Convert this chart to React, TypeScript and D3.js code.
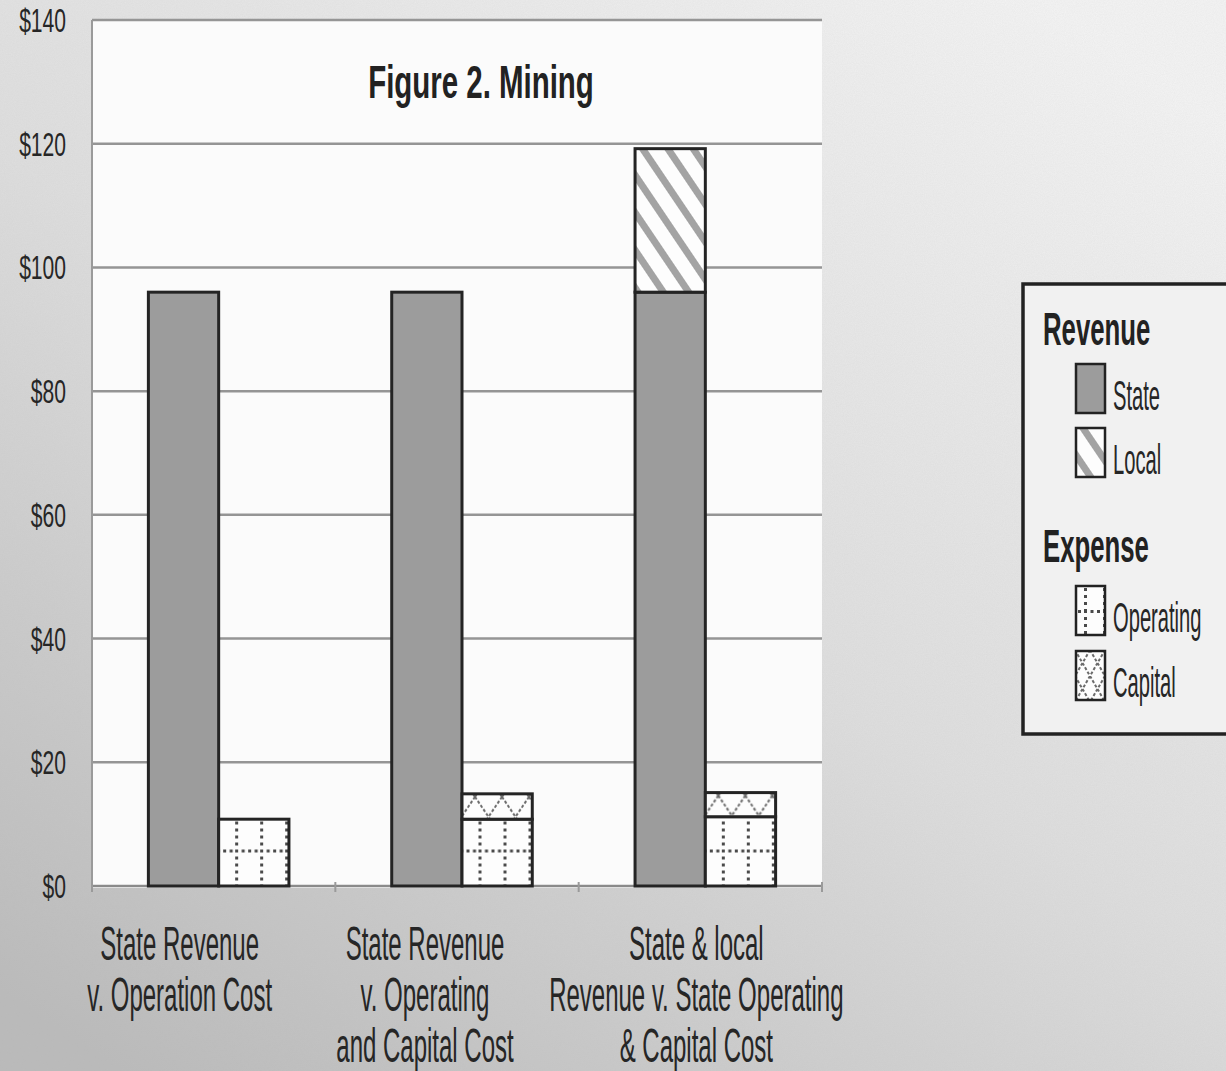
import React, { useEffect, useRef } from 'react';
import * as d3 from 'd3';

// chart values
const categories = ['opCost', 'opCapCost', 'localOpCapCost'];
const categoryLabels = [
  ['State Revenue', 'v. Operation Cost'],
  ['State Revenue', 'v. Operating', 'and Capital Cost'],
  ['State & local', 'Revenue v. State Operating', '& Capital Cost'],
];
const stateRevenue = [96, 96, 96];
const localRevenue = [0, 0, 23.2];
const operatingExpense = [10.8, 10.8, 11.2];
const capitalExpense = [0, 4.1, 3.9];
const yTicks = [0, 20, 40, 60, 80, 100, 120, 140];

const W = 1226;
const H = 1071;
const plot = { left: 92, right: 822, top: 20, bottom: 886 };
const labelDx = [-34, -32, -4];
const font = '"Liberation Sans", Arial, sans-serif';
const ink = '#262626';

const App = () => {
  const svgRef = useRef(null);

  useEffect(() => {
    const svg = d3.select(svgRef.current);
    svg.selectAll('*').remove();

    const x = d3.scaleBand().domain(categories).range([plot.left, plot.right]);
    const inner = d3
      .scaleBand()
      .domain(['revenue', 'expense'])
      .range([10, x.bandwidth()])
      .paddingOuter(0.66)
      .paddingInner(0);
    const y = d3.scaleLinear().domain([0, 140]).range([plot.bottom, plot.top]);

    const defs = svg.append('defs');

    // page background, scanned paper look
    const bg = defs
      .append('linearGradient')
      .attr('id', 'paper')
      .attr('x1', 0.85)
      .attr('y1', 0)
      .attr('x2', 0.1)
      .attr('y2', 1);
    bg.append('stop').attr('offset', 0).attr('stop-color', '#f4f4f4');
    bg.append('stop').attr('offset', 0.5).attr('stop-color', '#dedede');
    bg.append('stop').attr('offset', 1).attr('stop-color', '#bababa');

    const noise = defs.append('filter').attr('id', 'grain').attr('x', 0).attr('y', 0).attr('width', 1).attr('height', 1);
    noise.append('feTurbulence').attr('type', 'fractalNoise').attr('baseFrequency', 0.9).attr('numOctaves', 2).attr('seed', 3);
    noise
      .append('feColorMatrix')
      .attr('type', 'matrix')
      .attr('values', '0 0 0 0 0.5  0 0 0 0 0.5  0 0 0 0 0.5  0 0 0 0.35 0');

    // hatch patterns
    const stripes = (id, ox, oy) => {
      const p = defs
        .append('pattern')
        .attr('id', id)
        .attr('patternUnits', 'userSpaceOnUse')
        .attr('x', ox)
        .attr('y', oy)
        .attr('width', 21)
        .attr('height', 21)
        .attr('patternTransform', 'rotate(-34)');
      p.append('rect').attr('width', 21).attr('height', 21).attr('fill', '#fdfdfd');
      p.append('rect').attr('x', 0).attr('width', 7).attr('height', 21).attr('fill', '#a3a3a3');
    };
    const dotted = (id, ox, oy, w, h) => {
      const p = defs
        .append('pattern')
        .attr('id', id)
        .attr('patternUnits', 'userSpaceOnUse')
        .attr('x', ox)
        .attr('y', oy)
        .attr('width', w)
        .attr('height', h);
      p.append('rect').attr('width', w).attr('height', h).attr('fill', '#fdfdfd');
      p.append('line')
        .attr('x1', 1.5).attr('x2', 1.5).attr('y1', 0).attr('y2', h)
        .attr('stroke', '#4a4a4a').attr('stroke-width', 3).attr('stroke-dasharray', '3 4');
      p.append('line')
        .attr('x1', 0).attr('x2', w).attr('y1', 1.5).attr('y2', 1.5)
        .attr('stroke', '#4a4a4a').attr('stroke-width', 3).attr('stroke-dasharray', '3 3.5');
    };
    const lattice = (id, ox, oy, w, h) => {
      const p = defs
        .append('pattern')
        .attr('id', id)
        .attr('patternUnits', 'userSpaceOnUse')
        .attr('x', ox)
        .attr('y', oy)
        .attr('width', w)
        .attr('height', h);
      p.append('rect').attr('width', w).attr('height', h).attr('fill', '#fdfdfd');
      p.append('path')
        .attr('d', `M0,0L${w},${h}M${w},0L0,${h}`)
        .attr('stroke', '#6a6a6a')
        .attr('stroke-width', 2)
        .attr('stroke-dasharray', '3 2');
    };

    svg.append('rect').attr('width', W).attr('height', H).attr('fill', 'url(#paper)');
    svg.append('rect').attr('width', W).attr('height', H).attr('filter', 'url(#grain)').attr('opacity', 0.5);

    // plot area
    svg
      .append('rect')
      .attr('x', plot.left)
      .attr('y', plot.top)
      .attr('width', plot.right - plot.left)
      .attr('height', plot.bottom - plot.top + 2)
      .attr('fill', '#fbfbfb');

    // gridlines
    svg
      .append('g')
      .selectAll('line')
      .data(yTicks)
      .join('line')
      .attr('x1', plot.left)
      .attr('x2', plot.right)
      .attr('y1', (d) => y(d))
      .attr('y2', (d) => y(d))
      .attr('stroke', (d) => (d === 0 ? '#8a8a8a' : '#959595'))
      .attr('stroke-width', 2.5);

    svg
      .append('line')
      .attr('x1', plot.left)
      .attr('x2', plot.left)
      .attr('y1', plot.top)
      .attr('y2', plot.bottom + 2)
      .attr('stroke', '#9a9a9a')
      .attr('stroke-width', 2);

    // category ticks on the baseline
    const bounds = categories.map((c) => x(c)).concat([plot.right]);
    svg
      .append('g')
      .selectAll('line')
      .data(bounds)
      .join('line')
      .attr('x1', (d) => d)
      .attr('x2', (d) => d)
      .attr('y1', plot.bottom - 4)
      .attr('y2', plot.bottom + 6)
      .attr('stroke', '#9a9a9a')
      .attr('stroke-width', 2);

    // y tick labels
    svg
      .append('g')
      .selectAll('text')
      .data(yTicks)
      .join('text')
      .attr('transform', (d) => `translate(66,${y(d) + 12}) scale(0.62,1)`)
      .attr('text-anchor', 'end')
      .attr('font-family', font)
      .attr('font-size', 34)
      .attr('fill', ink)
      .text((d) => `$${d}`);

    // stacked bars
    const revRows = categories.map((c, i) => ({ state: stateRevenue[i], local: localRevenue[i] }));
    const expRows = categories.map((c, i) => ({ operating: operatingExpense[i], capital: capitalExpense[i] }));
    const revStack = d3.stack().keys(['state', 'local'])(revRows);
    const expStack = d3.stack().keys(['operating', 'capital'])(expRows);

    const barG = svg.append('g');
    const bw = inner.bandwidth();

    categories.forEach((c, i) => {
      const rx = x(c) + inner('revenue');
      const ex = x(c) + inner('expense');
      stripes(`local${i}`, rx, y(revStack[1][i][1]));
      dotted(`op${i}`, ex + 16.5, y(0) - 36.5, 25, 70);
      lattice(`cap${i}`, ex + 13, y(expStack[1][i][1]) + 3, 27, 40);
    });

    const fills = {
      state: () => '#9c9c9c',
      local: (i) => `url(#local${i})`,
      operating: (i) => `url(#op${i})`,
      capital: (i) => `url(#cap${i})`,
    };

    const drawStack = (stack, part) => {
      stack.forEach((layer) => {
        layer.forEach((seg, i) => {
          if (seg[1] - seg[0] <= 0) return;
          barG
            .append('rect')
            .attr('x', x(categories[i]) + inner(part))
            .attr('y', y(seg[1]))
            .attr('width', bw)
            .attr('height', y(seg[0]) - y(seg[1]))
            .attr('fill', fills[layer.key](i))
            .attr('stroke', '#242424')
            .attr('stroke-width', 3);
        });
      });
    };
    drawStack(revStack, 'revenue');
    drawStack(expStack, 'expense');

    // category labels
    categories.forEach((c, i) => {
      const cx = x(c) + x.bandwidth() / 2 + labelDx[i];
      categoryLabels[i].forEach((line, k) => {
        svg
          .append('text')
          .attr('transform', `translate(${cx},${960 + k * 51}) scale(0.5,1)`)
          .attr('text-anchor', 'middle')
          .attr('font-family', font)
          .attr('font-size', 48)
          .attr('fill', ink)
          .text(line);
      });
    });

    // title
    svg
      .append('text')
      .attr('transform', `translate(481,98) scale(0.64,1)`)
      .attr('text-anchor', 'middle')
      .attr('font-family', font)
      .attr('font-weight', 'bold')
      .attr('font-size', 46)
      .attr('fill', '#222')
      .text('Figure 2. Mining');

    // legend
    const lg = svg.append('g');
    lg.append('rect')
      .attr('x', 1023)
      .attr('y', 284)
      .attr('width', 240)
      .attr('height', 450)
      .attr('fill', '#f1f1f1')
      .attr('stroke', '#222')
      .attr('stroke-width', 3.5);

    const heading = (txt, yy) =>
      lg
        .append('text')
        .attr('transform', `translate(1043,${yy}) scale(0.56,1)`)
        .attr('font-family', font)
        .attr('font-weight', 'bold')
        .attr('font-size', 46)
        .attr('fill', '#222')
        .text(txt);
    heading('Revenue', 345);
    heading('Expense', 562);

    stripes('lgLocal', 1075, 427);
    dotted('lgOp', 1084, 610, 19, 50);
    lattice('lgCap', 1075, 650, 15, 26);

    const items = [
      { label: 'State', fill: '#9c9c9c', top: 364 },
      { label: 'Local', fill: 'url(#lgLocal)', top: 428 },
      { label: 'Operating', fill: 'url(#lgOp)', top: 586 },
      { label: 'Capital', fill: 'url(#lgCap)', top: 651 },
    ];
    items.forEach((it) => {
      lg.append('rect')
        .attr('x', 1076)
        .attr('y', it.top)
        .attr('width', 29)
        .attr('height', 49)
        .attr('fill', it.fill)
        .attr('stroke', '#222')
        .attr('stroke-width', 2.5);
      lg.append('text')
        .attr('transform', `translate(1113,${it.top + 46}) scale(0.48,1)`)
        .attr('font-family', font)
        .attr('font-size', 42)
        .attr('fill', ink)
        .text(it.label);
    });
  }, []);

  return (
    <svg
      ref={svgRef}
      width={W}
      height={H}
      style={{ position: 'absolute', left: 0, top: 0, display: 'block' }}
    />
  );
};

export default App;
